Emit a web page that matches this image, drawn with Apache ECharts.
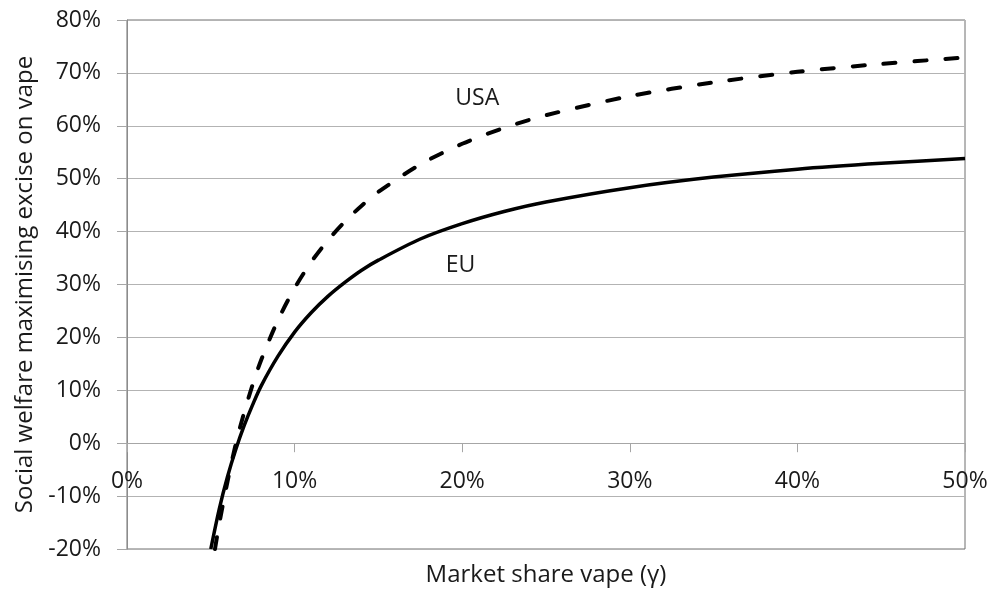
<!DOCTYPE html>
<html>
<head>
<meta charset="utf-8">
<script src="https://cdn.jsdelivr.net/npm/echarts@6/dist/echarts.min.js"></script>
<style>
html, body { margin: 0; padding: 0; background: #fff; }
#chart { width: 997px; height: 591px; }
</style>
</head>
<body>
<div id="chart"></div>
<script>
// market share of vape (%)
var euShare = [5.0, 5.5, 6.0, 6.5, 7.0, 7.5, 8.0, 9.0, 10, 11, 12, 13, 14, 15, 17.5, 20, 22.5, 25, 30, 35, 40, 45, 50];
var euExcise = [-20, -12.5, -6.3, -1.1, 3.4, 7.3, 10.8, 16.4, 21, 24.7, 27.8, 30.4, 32.7, 34.6, 38.6, 41.5, 43.8, 45.6, 48.3, 50.3, 51.8, 52.9, 53.8];

var usaShare = [5.25, 5.5, 6.0, 6.5, 7.0, 7.5, 8.0, 9.0, 10, 11, 12, 13, 14, 15, 17.5, 20, 22.5, 25, 30, 35, 40, 45, 50];
var usaExcise = [-20, -15.3, -7.2, 0, 5.9, 11.1, 15.7, 23.2, 29.3, 34.3, 38.4, 41.9, 44.9, 47.5, 52.7, 56.6, 59.6, 62, 65.6, 68.2, 70.2, 71.7, 72.9];

// where the two curve names sit, in data units [share, excise]
var usaLabelAt = [20.9, 65.1];
var euLabelAt = [19.9, 33.6];

var xTicks = [0, 50, 10];   // min, max, step
var yTicks = [-20, 80, 10];

var font = '"Open Sans", sans-serif';
var ink = '#1a1a1a';

var W = 997, H = 591;
var gridTop = 20, gridBottom = 42;
// the category axis sits on the 0% line, like Excel draws it
var plotH = H - gridTop - gridBottom;
var zeroOffset = -plotH * (0 - yTicks[0]) / (yTicks[1] - yTicks[0]);

function pairs(xs, ys) {
	var out = [];
	for (var i = 0; i < xs.length; i++) {
		out.push([xs[i], ys[i]]);
	}
	return out;
}

function nameMark(text, at) {
	return {
		symbol: 'circle',
		symbolSize: 1,
		silent: true,
		itemStyle: { color: 'rgba(0,0,0,0)' },
		label: {
			show: true,
			position: 'inside',
			formatter: text,
			color: ink,
			fontFamily: font,
			fontSize: 23
		},
		data: [{ coord: at }]
	};
}

var chart = echarts.init(document.getElementById('chart'));

chart.setOption({
	animation: false,
	grid: {
		left: 127,
		right: 32,
		top: gridTop,
		bottom: gridBottom,
		outerBoundsMode: 'none',
		containLabel: false,
		show: true,
		borderColor: '#6e6e6e',
		borderWidth: 1
	},
	xAxis: {
		type: 'value',
		position: 'bottom',
		offset: zeroOffset,
		min: xTicks[0],
		max: xTicks[1],
		interval: xTicks[2],
		name: 'Market share vape (\u03b3)',
		nameLocation: 'middle',
		nameGap: 120,
		nameTextStyle: { color: ink, fontFamily: font, fontSize: 24 },
		axisLine: { onZero: false, lineStyle: { color: '#a6a6a6', width: 1 } },
		axisTick: { show: true, inside: false, length: 9, lineStyle: { color: '#a6a6a6' } },
		axisLabel: {
			formatter: '{value}%',
			color: ink,
			fontFamily: font,
			fontSize: 23,
			margin: 27
		},
		splitLine: { show: false }
	},
	yAxis: {
		type: 'value',
		min: yTicks[0],
		max: yTicks[1],
		interval: yTicks[2],
		name: 'Social welfare maximising excise on vape',
		nameLocation: 'middle',
		nameGap: 86,
		nameTextStyle: { color: ink, fontFamily: font, fontSize: 24 },
		axisLine: { show: true, lineStyle: { color: '#8c8c8c', width: 1 } },
		axisTick: { show: true, inside: false, length: 10, lineStyle: { color: '#a6a6a6' } },
		axisLabel: {
			formatter: '{value}%',
			color: ink,
			fontFamily: font,
			fontSize: 23,
			margin: 26
		},
		splitLine: { show: true, lineStyle: { color: '#b3b3b3', width: 1 } }
	},
	series: [{
		name: 'EU',
		type: 'line',
		smooth: 0.3,
		showSymbol: false,
		clip: true,
		lineStyle: { color: '#000', width: 3.5 },
		data: pairs(euShare, euExcise),
		markPoint: nameMark('EU', euLabelAt)
	}, {
		name: 'USA',
		type: 'line',
		smooth: 0.3,
		showSymbol: false,
		clip: true,
		lineStyle: { color: '#000', width: 4, type: [12, 19], cap: 'round' },
		data: pairs(usaShare, usaExcise),
		markPoint: nameMark('USA', usaLabelAt)
	}]
});
</script>
</body>
</html>
